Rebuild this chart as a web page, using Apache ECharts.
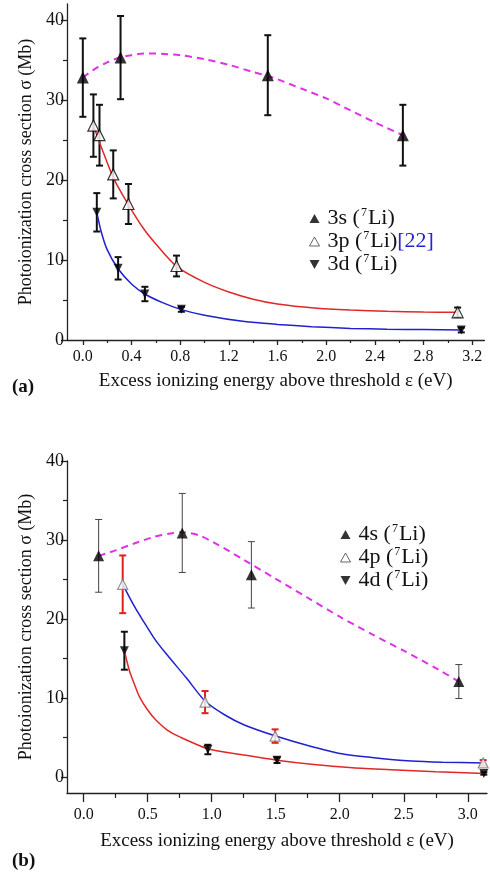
<!DOCTYPE html>
<html><head><meta charset="utf-8">
<script src="https://cdn.jsdelivr.net/npm/echarts@6/dist/echarts.min.js"></script>
<style>html,body{margin:0;padding:0;background:#fff}#c{width:490px;height:872px}</style>
</head><body><div id="c"></div>
<script>
// ---------- Panel (a) data ----------
const a3sX = [0.0, 0.31, 1.52, 2.63];
const a3sY = [32.8, 35.3, 33.1, 25.6];
const a3sErr = [4.9, 5.2, 5.0, 3.8];
const a3pX = [0.087, 0.137, 0.25, 0.375, 0.77, 3.08];
const a3pY = [26.8, 25.6, 20.7, 17.0, 9.25, 3.46];
const a3pErr = [3.9, 3.8, 3.0, 2.5, 1.3, 0.6];
const a3dX = [0.115, 0.29, 0.51, 0.81, 3.11];
const a3dY = [15.96, 8.96, 5.75, 3.83, 1.25];
const a3dErr = [2.4, 1.4, 0.9, 0.3, 0.3];
const fitA3sX = [0, 0.1, 0.2, 0.3, 0.4, 0.5, 0.6, 0.8, 1.0, 1.2, 1.4, 1.52, 1.6, 1.8, 2.0, 2.2, 2.4, 2.63];
const fitA3sY = [32.8, 33.9, 34.7, 35.3, 35.6, 35.8, 35.8, 35.6, 35.1, 34.4, 33.5, 33.0, 32.6, 31.4, 30.2, 28.7, 27.2, 25.6];
const fitA3pX = [0.087, 0.15, 0.25, 0.375, 0.5, 0.6, 0.77, 1.0, 1.2, 1.4, 1.6, 1.9, 2.2, 2.5, 2.8, 3.08];
const fitA3pY = [26.8, 24.2, 20.3, 16.9, 13.9, 12.0, 9.2, 7.2, 6.0, 5.1, 4.5, 4.0, 3.75, 3.6, 3.5, 3.46];
const fitA3dX = [0.115, 0.15, 0.2, 0.29, 0.4, 0.51, 0.65, 0.81, 1.0, 1.33, 1.6, 1.88, 2.2, 2.5, 2.8, 3.11];
const fitA3dY = [15.96, 13.6, 11.3, 8.9, 7.0, 5.75, 4.7, 3.8, 3.1, 2.3, 1.95, 1.67, 1.45, 1.35, 1.3, 1.25];
const aXTicks = [0, 0.4, 0.8, 1.2, 1.6, 2.0, 2.4, 2.8, 3.2];
const aXMinor = [0.2, 0.6, 1.0, 1.4, 1.8, 2.2, 2.6, 3.0];
const aYTicks = [0, 10, 20, 30, 40];
const aYMinor = [5, 15, 25, 35];

// ---------- Panel (b) data ----------
const b4sX = [0.117, 0.77, 1.31, 2.93];
const b4sY = [28.0, 30.9, 25.6, 12.1];
const b4sErr = [4.6, 5.0, 4.2, 2.15];
const b4pX = [0.305, 0.948, 1.495, 3.12];
const b4pY = [24.4, 9.5, 5.2, 1.81];
const b4pErr = [3.65, 1.4, 0.85, 0.35];
const b4dX = [0.318, 0.97, 1.51, 3.125];
const b4dY = [16.0, 3.5, 2.15, 0.47];
const b4dErr = [2.4, 0.6, 0.35, 0.15];
const fitB4sX = [0.117, 0.25, 0.4, 0.55, 0.7, 0.77, 0.9, 1.05, 1.25, 1.5, 1.75, 2.0, 2.25, 2.5, 2.75, 2.93];
const fitB4sY = [28.0, 28.7, 29.6, 30.4, 30.9, 31.0, 30.6, 29.4, 27.5, 25.1, 22.7, 20.3, 18.1, 16.0, 13.8, 12.1];
const fitB4pX = [0.305, 0.4, 0.46, 0.55, 0.64, 0.8, 0.95, 1.1, 1.255, 1.5, 1.75, 2.0, 2.25, 2.56, 2.8, 3.12];
const fitB4pY = [24.4, 21.5, 19.9, 17.6, 15.7, 12.6, 9.6, 7.9, 6.6, 5.2, 4.0, 3.0, 2.5, 2.05, 1.9, 1.81];
const fitB4dX = [0.318, 0.357, 0.4, 0.435, 0.5, 0.566, 0.65, 0.75, 0.97, 1.255, 1.51, 1.8, 2.1, 2.4, 2.75, 3.125];
const fitB4dY = [16.0, 13.5, 11.6, 10.2, 8.5, 7.2, 6.0, 5.1, 3.6, 2.8, 2.15, 1.6, 1.2, 0.95, 0.7, 0.47];
const bXTicks = [0, 0.5, 1.0, 1.5, 2.0, 2.5, 3.0];
const bXMinor = [0.25, 0.75, 1.25, 1.75, 2.25, 2.75];
const bYTicks = [0, 10, 20, 30, 40];
const bYMinor = [5, 15, 25, 35];

const xTitle = 'Excess ionizing energy above threshold ε (eV)';
const yTitle = 'Photoionization cross section σ (Mb)';

const SERIF = 'Liberation Serif';
const AX = '#222';
const zip = (xs, ys) => xs.map((x, i) => [x, ys[i]]);
const errData = (xs, ys, es) => xs.map((x, i) => [x, ys[i] - es[i], ys[i] + es[i]]);

function mainX(gi, min, max, ticks, tickLen, margin, gap) {
  return {
    type: 'value', gridIndex: gi, min: min, max: max, position: 'bottom',
    axisLine: { show: true, onZero: false, lineStyle: { color: AX, width: 1.3 } },
    axisTick: { show: true, customValues: ticks, length: tickLen, lineStyle: { color: AX, width: 1.3 } },
    axisLabel: { customValues: ticks, margin: margin, formatter: v => v.toFixed(1),
      fontFamily: SERIF, fontSize: 16, color: '#111' },
    splitLine: { show: false },
    name: xTitle, nameLocation: 'middle', nameGap: gap,
    nameTextStyle: { fontFamily: SERIF, fontSize: 19, color: '#111' }
  };
}
function minorX(gi, min, max, ticks, tickLen) {
  return {
    type: 'value', gridIndex: gi, min: min, max: max, position: 'bottom',
    axisLine: { show: true, onZero: false, lineStyle: { color: 'rgba(0,0,0,0)', width: 1 } },
    axisLabel: { show: false }, splitLine: { show: false },
    axisTick: { show: true, customValues: ticks, length: tickLen, lineStyle: { color: AX, width: 1.2 } }
  };
}
function mainY(gi, min, max, ticks) {
  return {
    type: 'value', gridIndex: gi, min: min, max: max, position: 'left',
    axisLine: { show: true, onZero: false, lineStyle: { color: AX, width: 1.3 } },
    axisTick: { show: true, customValues: ticks, length: 6, lineStyle: { color: AX, width: 1.3 } },
    axisLabel: { customValues: ticks, margin: 3, formatter: v => String(v),
      fontFamily: SERIF, fontSize: 18, color: '#111' },
    splitLine: { show: false },
    name: yTitle, nameLocation: 'middle', nameGap: 32, nameRotate: 90,
    nameTextStyle: { fontFamily: SERIF, fontSize: 18, color: '#111' }
  };
}
function minorY(gi, min, max, ticks) {
  return {
    type: 'value', gridIndex: gi, min: min, max: max, position: 'left',
    axisLine: { show: true, onZero: false, lineStyle: { color: 'rgba(0,0,0,0)', width: 1 } },
    axisLabel: { show: false }, splitLine: { show: false },
    axisTick: { show: true, customValues: ticks, length: 4, lineStyle: { color: AX, width: 1.2 } }
  };
}

function errSeries(ax, data, color, width, cap) {
  return {
    type: 'custom', xAxisIndex: ax, yAxisIndex: ax, z: 2, silent: true,
    encode: { x: 0, y: [1, 2] },
    data: data,
    renderItem: function (params, api) {
      const lo = api.coord([api.value(0), api.value(1)]);
      const hi = api.coord([api.value(0), api.value(2)]);
      const st = { stroke: color, lineWidth: width };
      return { type: 'group', children: [
        { type: 'line', shape: { x1: lo[0], y1: lo[1], x2: hi[0], y2: hi[1] }, style: st },
        { type: 'line', shape: { x1: lo[0] - cap, y1: lo[1], x2: lo[0] + cap, y2: lo[1] }, style: st },
        { type: 'line', shape: { x1: hi[0] - cap, y1: hi[1], x2: hi[0] + cap, y2: hi[1] }, style: st }
      ]};
    }
  };
}
function fitSeries(ax, xs, ys, color, dashed) {
  return {
    type: 'line', xAxisIndex: ax, yAxisIndex: ax, z: 3, silent: true,
    data: zip(xs, ys), showSymbol: false, smooth: 0.25,
    lineStyle: { color: color, width: dashed ? 2 : 1.5, type: dashed ? [7, 5] : 'solid' }
  };
}
function markSeries(ax, name, xs, ys, kind, size, edge) {
  const s = {
    type: 'scatter', name: name, xAxisIndex: ax, yAxisIndex: ax, z: 4,
    data: zip(xs, ys), symbol: 'triangle', symbolSize: size,
    itemStyle: { color: '#000' }
  };
  if (kind === 'down') s.symbolRotate = 180;
  if (kind === 'open') s.itemStyle = { color: '#fff', borderColor: edge || '#000', borderWidth: 1.2 };
  return s;
}

const UP = 'path://M5,0L10,9L0,9Z';
const DOWN = 'path://M0,0L10,0L5,9Z';
const rich = {
  t: { fontFamily: SERIF, fontSize: 22, color: '#111', lineHeight: 23 },
  s: { fontFamily: SERIF, fontSize: 12, color: '#111', verticalAlign: 'top', lineHeight: 23, padding: [0, 1, 9, 1] },
  r: { fontFamily: SERIF, fontSize: 22, color: '#2525d0', lineHeight: 23 }
};
const legendText = {
  '3s': '{t|3s (}{s|7}{t|Li)}', '3p': '{t|3p (}{s|7}{t|Li)}{r|[22]}', '3d': '{t|3d (}{s|7}{t|Li)}',
  '4s': '{t|4s (}{s|7}{t|Li)}', '4p': '{t|4p (}{s|7}{t|Li)}', '4d': '{t|4d (}{s|7}{t|Li)}'
};
function legendItems(names) {
  return [
    { name: names[0], icon: UP },
    { name: names[1], icon: UP, itemStyle: { color: '#fff', borderColor: '#444', borderWidth: 1 } },
    { name: names[2], icon: DOWN }
  ];
}

const gridA = { left: 67, top: 4, width: 417.4, height: 336 };
const gridB = { left: 67, top: 461, width: 420, height: 332 };

const option = {
  animation: false,
  backgroundColor: '#fff',
  // grids 2 and 3 repeat grids 0 and 1 and only carry the minor ticks
  grid: [gridA, gridB, Object.assign({}, gridA), Object.assign({}, gridB)],
  xAxis: [
    mainX(0, -0.13, 3.3, aXTicks, 5, 9, 32), minorX(2, -0.13, 3.3, aXMinor, 3),
    mainX(1, -0.13, 3.15, bXTicks, 9, 14, 39), minorX(3, -0.13, 3.15, bXMinor, 5)
  ],
  yAxis: [
    mainY(0, 0, 42, aYTicks), minorY(2, 0, 42, aYMinor),
    mainY(1, -2, 40, bYTicks), minorY(3, -2, 40, bYMinor)
  ],
  legend: [
    { orient: 'vertical', left: 304, top: 202, itemWidth: 10, itemHeight: 9, itemGap: 0.5,
      selectedMode: false, data: legendItems(['3s', '3p', '3d']), formatter: n => legendText[n],
      textStyle: { rich: rich, padding: [0, 0, 0, 3] } },
    { orient: 'vertical', left: 335, top: 518, itemWidth: 10, itemHeight: 9, itemGap: 0.5,
      selectedMode: false, data: legendItems(['4s', '4p', '4d']), formatter: n => legendText[n],
      textStyle: { rich: rich, padding: [0, 0, 0, 3] } }
  ],
  graphic: [
    { type: 'text', left: 12, top: 378, style: { text: '(a)', font: 'bold 19px "Liberation Serif"', fill: '#111' } },
    { type: 'text', left: 12, top: 852, style: { text: '(b)', font: 'bold 19px "Liberation Serif"', fill: '#111' } }
  ],
  series: [
    errSeries(0, errData(a3sX, a3sY, a3sErr), '#111', 2, 3.5),
    errSeries(0, errData(a3pX, a3pY, a3pErr), '#111', 2, 3.5),
    errSeries(0, errData(a3dX, a3dY, a3dErr), '#111', 2, 3.5),
    fitSeries(0, fitA3sX, fitA3sY, '#e030e8', true),
    fitSeries(0, fitA3pX, fitA3pY, '#e02828', false),
    fitSeries(0, fitA3dX, fitA3dY, '#2020d0', false),
    markSeries(0, '3s', a3sX, a3sY, 'up', 12),
    markSeries(0, '3p', a3pX, a3pY, 'open', 11, '#000'),
    markSeries(0, '3d', a3dX, a3dY, 'down', 9),

    errSeries(2, errData(b4sX, b4sY, b4sErr), '#444', 1, 3.5),
    errSeries(2, errData(b4pX, b4pY, b4pErr), '#e02020', 2, 3.5),
    errSeries(2, errData(b4dX, b4dY, b4dErr), '#111', 2, 3.5),
    fitSeries(2, fitB4sX, fitB4sY, '#e030e8', true),
    fitSeries(2, fitB4pX, fitB4pY, '#2020d0', false),
    fitSeries(2, fitB4dX, fitB4dY, '#e02828', false),
    markSeries(2, '4s', b4sX, b4sY, 'up', 11),
    markSeries(2, '4p', b4pX, b4pY, 'open', 10, '#777'),
    markSeries(2, '4d', b4dX, b4dY, 'down', 9)
  ]
};
const chart = echarts.init(document.getElementById('c'), null, { renderer: 'canvas' });
chart.setOption(option);
</script></body></html>
